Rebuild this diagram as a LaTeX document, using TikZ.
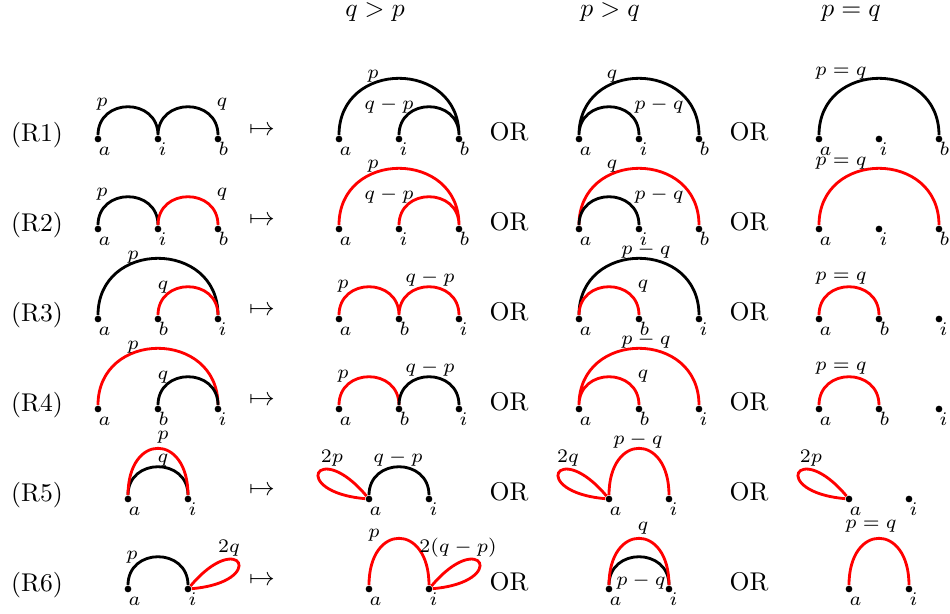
\documentclass[tikz,border=0pt]{standalone}
\usepackage{fix-cm}
\usepackage{amsmath}
\usepackage{tikz}

\begin{document}
\begin{tikzpicture}[x=0.39pt,y=0.39pt,
  dot/.style={circle,fill=black,inner sep=0pt,minimum size=2.6pt},
  lab/.style={inner sep=0pt,font=\fontsize{7.5}{9}\selectfont},
  vlab/.style={lab,anchor=base west},
  arcline/.style={line width=1.1pt},
  semi/.style={out=90,in=90,looseness=1.62},
  tall/.style={out=90,in=90,looseness=2.67},
  lloop/.style={out=175,in=130,distance=30pt},
  rloop/.style={out=5,in=50,distance=30pt}]
\useasboundingbox (0,0) rectangle (950,613);

\node[anchor=base] (hqp) at (375,597) {$q>p$};
\node[anchor=base] (hpq) at (610,597) {$p>q$};
\node[anchor=base] (heq) at (851,597) {$p=q$};

\foreach \row/\y in {1/474,2/384,3/294,4/204,5/114,6/24}{
  \node[anchor=base] (R\row) at (37,\y-2) {(R\row)};
  \node[anchor=base] (M\row) at (262,\y+4) {$\mapsto$};
  \node[anchor=base] (ORa\row) at (509,\y-1) {OR};
  \node[anchor=base] (ORb\row) at (749,\y-1) {OR};
}

\foreach \row/\y in {1/474,2/384}
  \foreach \col/\x in {L/98,Q/339,P/579,E/819}
    \foreach \n/\dx in {a/0,i/60,b/120}{
      \node[dot] (\col\row\n) at (\x+\dx,\y) {};
      \node[vlab] (\col\row\n-t) at (\x+\dx,\y-16) {$\n$};
    }
\foreach \row/\y in {3/294,4/204}
  \foreach \col/\x in {L/98,Q/339,P/579,E/819}
    \foreach \n/\dx in {a/0,b/60,i/120}{
      \node[dot] (\col\row\n) at (\x+\dx,\y) {};
      \node[vlab] (\col\row\n-t) at (\x+\dx,\y-16) {$\n$};
    }
\foreach \row/\y in {5/114,6/24}
  \foreach \col/\x in {L/98,Q/339,P/579,E/819}
    \foreach \n/\dx in {a/30,i/90}{
      \node[dot] (\col\row\n) at (\x+\dx,\y) {};
      \node[vlab] (\col\row\n-t) at (\x+\dx,\y-16) {$\n$};
    }

% R1
\draw[arcline] (L1a) to[semi] (L1i) to[semi] (L1b);
\draw[arcline] (Q1a) to[semi] (Q1b) (Q1i) to[semi] (Q1b);
\draw[arcline] (P1a) to[semi] (P1b) (P1a) to[semi] (P1i);
\draw[arcline] (E1a) to[semi] (E1b);
\node[lab] (L1lp) at (102,509) {$p$};
\node[lab] (L1lq) at (222,509) {$q$};
\node[lab] (Q1lp) at (373,537) {$p$};
\node[lab] (Q1lqp) at (389,508) {$q-p$};
\node[lab] (P1lq) at (612,537) {$q$};
\node[lab] (P1lpq) at (659,508) {$p-q$};
\node[lab] (E1l) at (841,540) {$p=q$};

% R2
\draw[arcline] (L2a) to[semi] (L2i);
\draw[arcline,red] (L2i) to[semi] (L2b);
\draw[arcline,red] (Q2a) to[semi] (Q2b) (Q2i) to[semi] (Q2b);
\draw[arcline,red] (P2a) to[semi] (P2b);
\draw[arcline] (P2a) to[semi] (P2i);
\draw[arcline,red] (E2a) to[semi] (E2b);
\node[lab] (L2lp) at (102,419) {$p$};
\node[lab] (L2lq) at (222,419) {$q$};
\node[lab] (Q2lp) at (373,447) {$p$};
\node[lab] (Q2lqp) at (389,418) {$q-p$};
\node[lab] (P2lq) at (612,447) {$q$};
\node[lab] (P2lpq) at (659,418) {$p-q$};
\node[lab] (E2l) at (841,450) {$p=q$};

% R3
\draw[arcline] (L3a) to[semi] (L3i);
\draw[arcline,red] (L3b) to[semi] (L3i);
\draw[arcline,red] (Q3a) to[semi] (Q3b) to[semi] (Q3i);
\draw[arcline] (P3a) to[semi] (P3i);
\draw[arcline,red] (P3a) to[semi] (P3b);
\draw[arcline,red] (E3a) to[semi] (E3b);
\node[lab] (L3lp) at (133,356) {$p$};
\node[lab] (L3lq) at (163,326) {$q$};
\node[lab] (Q3lp) at (343,327) {$p$};
\node[lab] (Q3lqp) at (430,335) {$q-p$};
\node[lab] (P3lpq) at (646,363) {$p-q$};
\node[lab] (P3lq) at (643,327) {$q$};
\node[lab] (E3l) at (841,335) {$p=q$};

% R4
\draw[arcline,red] (L4a) to[semi] (L4i);
\draw[arcline] (L4b) to[semi] (L4i);
\draw[arcline,red] (Q4a) to[semi] (Q4b);
\draw[arcline] (Q4b) to[semi] (Q4i);
\draw[arcline,red] (P4a) to[semi] (P4i) (P4a) to[semi] (P4b);
\draw[arcline,red] (E4a) to[semi] (E4b);
\node[lab] (L4lp) at (133,266) {$p$};
\node[lab] (L4lq) at (163,236) {$q$};
\node[lab] (Q4lp) at (343,237) {$p$};
\node[lab] (Q4lqp) at (430,245) {$q-p$};
\node[lab] (P4lpq) at (646,273) {$p-q$};
\node[lab] (P4lq) at (643,237) {$q$};
\node[lab] (E4l) at (841,245) {$p=q$};

% R5
\draw[arcline] (L5a) to[semi] (L5i);
\draw[arcline,red] (L5a) to[tall] (L5i);
\draw[arcline,red] (Q5a) to[lloop] (Q5a);
\draw[arcline] (Q5a) to[semi] (Q5i);
\draw[arcline,red] (P5a) to[lloop] (P5a) (P5a) to[tall] (P5i);
\draw[arcline,red] (E5a) to[lloop] (E5a);
\node[lab] (L5lp) at (163,176) {$p$};
\node[lab] (L5lq) at (163,153) {$q$};
\node[lab] (Q5l2p) at (332,155) {$2p$};
\node[lab] (Q5lqp) at (398,155) {$q-p$};
\node[lab] (P5l2q) at (568,155) {$2q$};
\node[lab] (P5lpq) at (638,173) {$p-q$};
\node[lab] (E5l2p) at (811,155) {$2p$};

% R6
\draw[arcline] (L6a) to[semi] (L6i);
\draw[arcline,red] (L6i) to[rloop] (L6i);
\draw[arcline,red] (Q6a) to[tall] (Q6i) (Q6i) to[rloop] (Q6i);
\draw[arcline] (P6a) to[semi] (P6i);
\draw[arcline,red] (P6a) to[tall] (P6i);
\draw[arcline,red] (E6a) to[tall] (E6i);
\node[lab] (L6lp) at (132,56) {$p$};
\node[lab] (L6l2q) at (229,65) {$2q$};
\node[lab] (Q6lp) at (374,78) {$p$};
\node[lab] (Q6l2qp) at (458,65) {$2(q-p)$};
\node[lab] (P6lq) at (643,85) {$q$};
\node[lab] (P6lpq) at (641,32) {$p-q$};
\node[lab] (E6l) at (871,87) {$p=q$};
\end{tikzpicture}
\end{document}
